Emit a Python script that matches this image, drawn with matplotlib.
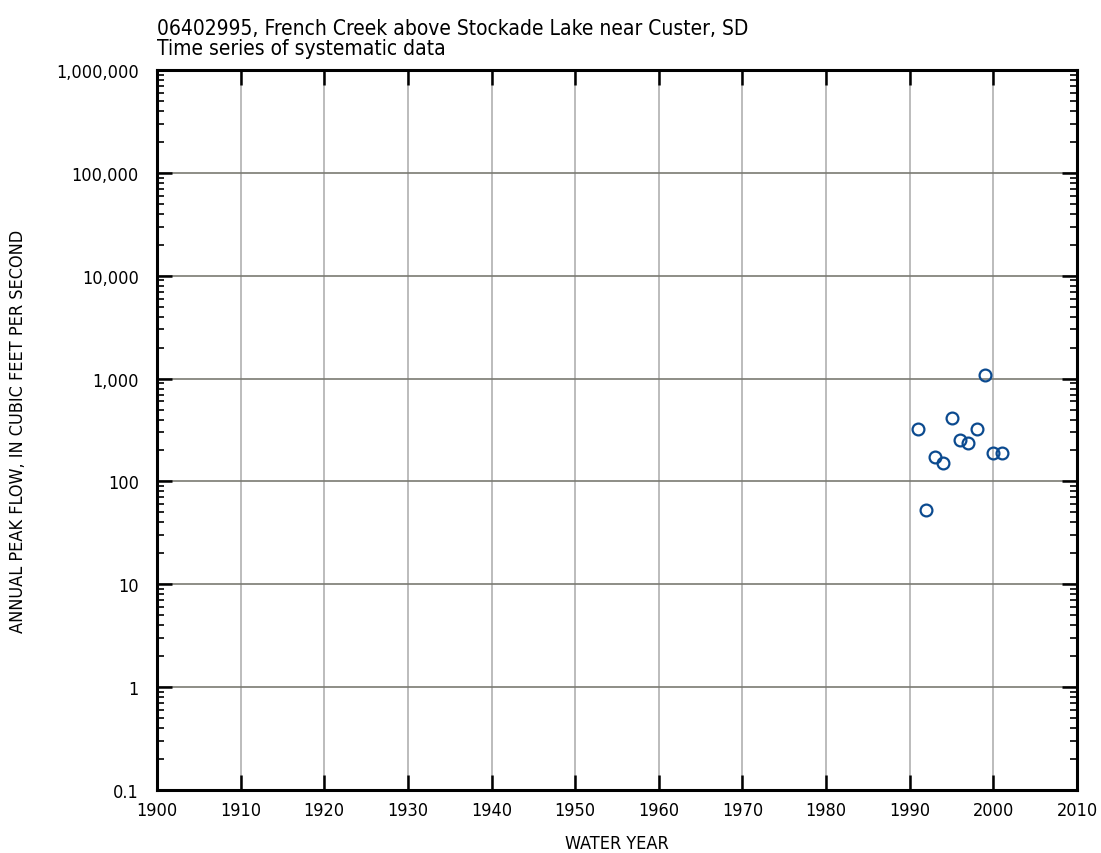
import matplotlib
matplotlib.use('Agg')
import matplotlib.pyplot as plt
from matplotlib.ticker import FixedLocator, FuncFormatter, LogLocator, NullFormatter

plt.rcParams['font.family'] = ['DejaVu Sans']
plt.rcParams['font.stretch'] = 'condensed'

# annual peak flow data
years = [1991, 1992, 1993, 1994, 1995, 1996, 1997, 1998, 1999, 2000, 2001]
peaks = [324, 53, 174, 151, 411, 254, 236, 324, 1083, 189, 187]

xticks = list(range(1900, 2011, 10))
yticks = [0.1, 1, 10, 100, 1000, 10000, 100000, 1000000]

fig = plt.figure(figsize=(11.01, 8.54), dpi=100)
ax = fig.add_axes([157/1101, 1-791/854, 920/1101, 720/854])

ax.plot(years, peaks, linestyle='none', marker='o', markersize=8.5,
        markerfacecolor='none', markeredgecolor='#0b4a8f', markeredgewidth=1.6, zorder=3)

ax.set_yscale('log')
ax.set_xlim(1900, 2010)
ax.set_ylim(0.1, 1000000)

ax.xaxis.set_major_locator(FixedLocator(xticks))
ax.yaxis.set_major_locator(FixedLocator(yticks))
ax.yaxis.set_minor_locator(LogLocator(base=10, subs=range(2, 10), numticks=20))
ax.yaxis.set_minor_formatter(NullFormatter())

def fmt(v, pos):
    if v < 1:
        return '%g' % v
    return '{:,}'.format(int(round(v)))
ax.yaxis.set_major_formatter(FuncFormatter(fmt))

ax.grid(True, which='major', axis='x', color='#b0b0b0', linewidth=1.2)
ax.grid(True, which='major', axis='y', color='#7a7a72', linewidth=1.2)

ax.tick_params(axis='both', which='major', direction='in', length=10.5, width=1.8,
               top=True, right=True, labelsize=13, colors='black')
ax.tick_params(axis='y', which='minor', direction='in', length=5, width=1.2,
               left=True, right=True)
ax.tick_params(axis='x', which='major', pad=8)
ax.tick_params(axis='y', which='major', pad=13)

for s in ax.spines.values():
    s.set_linewidth(2.2)

ax.set_xlabel('WATER YEAR', fontsize=13, labelpad=11)
fig.text(18/1101, 1-431/854, 'ANNUAL PEAK FLOW, IN CUBIC FEET PER SECOND', fontsize=13,
         rotation=90, ha='center', va='center')
fig.text(157/1101, 1-59/854, '06402995, French Creek above Stockade Lake near Custer, SD\nTime series of systematic data',
         fontsize=15, ha='left', va='bottom', linespacing=1.0)

fig.savefig('out.png', dpi=100)
